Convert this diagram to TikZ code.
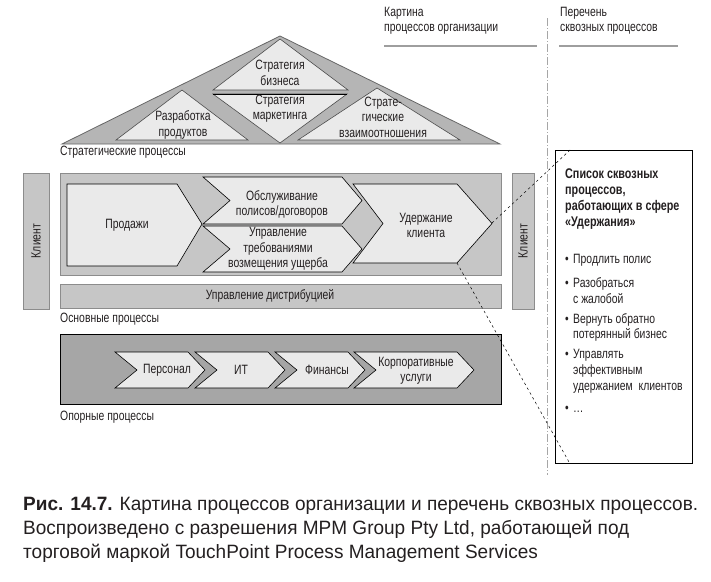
\documentclass[tikz,border=0pt]{standalone}
\usepackage{fontspec}
\setmainfont[FakeStretch=0.77]{Liberation Sans}
\newfontfamily\capfont[FakeStretch=0.985]{Liberation Sans}
\definecolor{txt}{HTML}{231F20}
\definecolor{triG}{HTML}{B5B5B5}
\definecolor{lightG}{HTML}{EAEAEA}
\definecolor{mainG}{HTML}{C6C6C6}
\definecolor{suppG}{HTML}{A6A6A6}
\definecolor{edgeG}{HTML}{8C8C8C}
\newcommand{\mychevron}[7]{%
  \draw[#7] (#1,#3) -- (#2-#6,#3) -- (#2,{(#3+#4)/2}) -- (#2-#6,#4) -- (#1,#4) -- (#1+#5,{(#3+#4)/2}) -- cycle;}
\begin{document}
\begin{tikzpicture}[x=1pt,y=-1pt,
  lbl/.style={font=\fontsize{13.5}{15.5}\selectfont, text=txt, align=center, inner sep=0pt},
  lblL/.style={lbl, align=left},
  secl/.style={lbl, anchor=west},
  chev/.style={draw=black, line width=0.6pt, fill=lightG},
  tri/.style={draw=black!70, line width=0.6pt, fill=lightG},
  clientbar/.style={draw=edgeG, line width=0.6pt, fill=mainG, font=\fontsize{13.5}{15}\selectfont, text=txt, inner sep=0pt},
  hline/.style={draw=black!38, line width=2.4pt},
  conn/.style={draw=black, line width=0.5pt, dash pattern=on 2.5pt off 3pt},
  captxt/.style={font=\capfont\fontsize{19.3}{23}\selectfont, text=txt, anchor=base west, inner sep=0pt}
]
\useasboundingbox (0,0) rectangle (711,581);

% headers
\node[lblL, anchor=west] (h1) at (384,21) {Картина\\процессов организации};
\node[lblL, anchor=west] (h2) at (560,21) {Перечень\\сквозных процессов};
\draw[hline] (384,46) -- (537,46);
\draw[hline] (559,46) -- (678,46);
\draw[draw=black!35, line width=0.6pt, dash pattern=on 8pt off 2pt on 1pt off 2pt] (547,18) -- (547,475);

% strategic
\draw[fill=triG, draw=black!60, line width=0.8pt] (62,144) -- (280,36) -- (500,144) -- cycle;
\draw[tri] (280,39) -- (348,90) -- (213,90) -- cycle;
\draw[tri] (213,94) -- (347,94) -- (280,143) -- cycle;
\draw[black, line width=1pt] (213,94) -- (347,94);
\draw[tri] (182,90) -- (248,140) -- (116,140) -- cycle;
\draw[tri] (377,88) -- (460,140) -- (298,140) -- cycle;
\node[lbl] (s1) at (280,73) {Стратегия\\бизнеса};
\node[lbl] (s2) at (280,108.5) {Стратегия\\маркетинга};
\node[lbl] (s3) at (183,125) {Разработка\\продуктов};
\node[lbl] (s4) at (383,117) {Страте-\\гические\\взаимоотношения};
\node[secl] (sl) at (60,152) {Стратегические процессы};

% core
\node[clientbar, rotate=90, minimum width=136pt, minimum height=26pt] (cl1) at (36,241) {Клиент};
\node[clientbar, rotate=90, minimum width=136pt, minimum height=22pt] (cl2) at (523,241) {Клиент};
\draw[draw=edgeG, line width=0.6pt, fill=mainG] (60,173) rectangle (501,275);
\draw[draw=edgeG, line width=0.6pt, fill=mainG] (60,284) rectangle (501,308);
\node[lbl] (dist) at (270,296) {Управление дистрибуцией};
\draw[chev] (67,184) -- (177,184) -- (202,224) -- (177,266) -- (67,266) -- cycle;
\mychevron{203}{362}{177}{224}{27}{20}{chev}
\mychevron{203}{362}{226}{272}{27}{20}{chev}
\mychevron{353}{492}{184}{263}{30}{35}{chev}
\node[lbl] (c1) at (127,225) {Продажи};
\node[lbl] (c2) at (282,204.5) {Обслуживание\\полисов/договоров};
\node[lbl] (c3) at (278,249) {Управление\\требованиями\\возмещения ущерба};
\node[lbl] (c4) at (426,225.5) {Удержание\\клиента};
\node[secl] (ml) at (60,319) {Основные процессы};

% support
\draw[draw=black, line width=0.7pt, fill=suppG] (60,334) rectangle (501,404);
\mychevron{115}{205}{352}{388}{22}{17}{chev}
\mychevron{195}{285}{352}{388}{22}{17}{chev}
\mychevron{275}{365}{352}{388}{22}{17}{chev}
\mychevron{354}{474}{352}{388}{22}{17}{chev}
\node[lbl] (p1) at (167,370) {Персонал};
\node[lbl] (p2) at (241,370) {ИТ};
\node[lbl] (p3) at (327,370) {Финансы};
\node[lbl] (p4) at (416,370.5) {Корпоративные\\услуги};
\node[secl] (sp) at (60,417) {Опорные процессы};

% list box
\node[draw=black, line width=0.8pt, fill=white, minimum width=137pt, minimum height=313pt, anchor=north west, inner sep=0pt] (lst) at (555,150) {};
\node[lblL, anchor=west, font=\bfseries\fontsize{14}{16}\selectfont] (lt) at (565,199.5) {Список сквозных\\процессов,\\работающих в сфере\\«Удержания»};
\node[lblL, anchor=west] (b1) at (565,260) {\makebox[8pt][l]{•}Продлить полис};
\node[lblL, anchor=west] (b2) at (565,290.5) {\makebox[8pt][l]{•}Разобраться\\\hspace*{8pt}с жалобой};
\node[lblL, anchor=west] (b3) at (565,327.5) {\makebox[8pt][l]{•}Вернуть обратно\\\hspace*{8pt}потерянный бизнес};
\node[lblL, anchor=west, font=\fontsize{13.5}{16}\selectfont] (b4) at (565,371) {\makebox[8pt][l]{•}Управлять\\\hspace*{8pt}эффективным\\\hspace*{8pt}удержанием\ \ клиентов};
\node[lblL, anchor=west] (b5) at (565,409) {\makebox[8pt][l]{•}…};

% connectors
\coordinate (retP) at (492,223);
\coordinate (retB) at (457,263);
\coordinate (lstA) at ([xshift=15pt]lst.north west);
\coordinate (lstB) at ([xshift=15pt]lst.south west);
\draw[conn] (retP) -- (lstA);
\draw[conn] (retB) -- (lstB);

% caption
\node[captxt] (cap1) at (23,510) {\textbf{Рис. 14.7.}\hspace{7pt}Картина процессов организации и перечень сквозных процессов.};
\node[captxt] (cap2) at (23,534) {Воспроизведено с разрешения MPM Group Pty Ltd, работающей под};
\node[captxt] (cap3) at (23,558) {торговой маркой TouchPoint Process Management Services};
\end{tikzpicture}
\end{document}
